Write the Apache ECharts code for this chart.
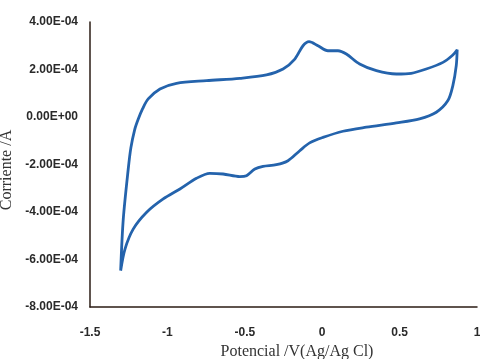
<!DOCTYPE html>
<html>
<head>
<meta charset="utf-8">
<script src="https://cdn.jsdelivr.net/npm/echarts@6/dist/echarts.min.js"></script>
<style>
  html, body { margin: 0; padding: 0; background: #fff; }
  #chart { width: 480px; height: 359px; }
</style>
</head>
<body>
<div id="chart"></div>
<script>
// Voltamograma ciclico: potencial (V) y corriente (A)
var potencial = [
  -1.302, -1.285, -1.253, -1.236, -1.212, -1.190, -1.160, -1.124, -1.048, -0.941, -0.747, -0.532,
  -0.360, -0.253, -0.177, -0.124, -0.085, -0.027, 0.037, 0.102, 0.156, 0.242,
  0.350, 0.479, 0.575, 0.672, 0.780, 0.844, 0.872,
  0.866, 0.844, 0.812, 0.737, 0.629, 0.479, 0.285, 0.134, 0.005, -0.081,
  -0.145, -0.221, -0.296, -0.382, -0.435, -0.489, -0.532, -0.640, -0.726,
  -0.812, -0.919, -1.027, -1.134, -1.221, -1.274, -1.302
];
var corriente = [
  -6.47e-4, -4.29e-4, -2.19e-4, -1.30e-4, -0.55e-4, -0.12e-4, 0.35e-4, 0.76e-4, 1.18e-4, 1.42e-4, 1.53e-4, 1.63e-4,
  1.77e-4, 2.02e-4, 2.44e-4, 3.00e-4, 3.17e-4, 3.00e-4, 2.79e-4, 2.79e-4, 2.65e-4, 2.23e-4,
  1.95e-4, 1.81e-4, 1.84e-4, 2.02e-4, 2.30e-4, 2.61e-4, 2.83e-4,
  2.16e-4, 1.32e-4, 0.69e-4, 0.20e-4, -0.08e-4, -0.25e-4, -0.43e-4, -0.60e-4, -0.86e-4, -1.09e-4,
  -1.42e-4, -1.84e-4, -2.01e-4, -2.08e-4, -2.19e-4, -2.47e-4, -2.51e-4, -2.40e-4, -2.37e-4,
  -2.58e-4, -3.03e-4, -3.45e-4, -4.01e-4, -4.72e-4, -5.56e-4, -6.47e-4
];

var chart = echarts.init(document.getElementById('chart'));

// formato "4.00E-04"
function formatoCientifico(v) {
  var s = Number(v).toExponential(2);
  var partes = s.split('e');
  var exp = parseInt(partes[1], 10);
  var signo = exp < 0 ? '-' : '+';
  var abs = Math.abs(exp);
  return partes[0] + 'E' + signo + (abs < 10 ? '0' + abs : abs);
}

var labelFont = {
  color: '#2a2a2a',
  fontFamily: '"Liberation Sans", sans-serif',
  fontSize: 12,
  fontWeight: 'bold'
};

var option = {
  animation: false,
  grid: { left: 90, right: 3, top: 22, bottom: 52, outerBoundsMode: 'none' },
  xAxis: {
    type: 'value',
    min: -1.5,
    max: 1,
    interval: 0.5,
    name: 'Potencial /V(Ag/Ag Cl)',
    nameLocation: 'middle',
    nameGap: 37,
    nameTextStyle: {
      color: '#333',
      fontFamily: '"Liberation Serif", serif',
      fontSize: 16,
      padding: [0, 0, 0, 27]
    },
    axisLine: { onZero: false, lineStyle: { color: '#2b1d15', width: 1.5 } },
    axisTick: { show: false },
    splitLine: { show: false },
    axisLabel: Object.assign({ margin: 20, formatter: function (v) { return String(v); } }, labelFont)
  },
  yAxis: {
    type: 'value',
    min: -8e-4,
    max: 4e-4,
    interval: 2e-4,
    name: 'Corriente /A',
    nameLocation: 'middle',
    nameGap: 65,
    nameTextStyle: {
      color: '#333',
      fontFamily: '"Liberation Serif", serif',
      fontSize: 16,
      padding: [0, 11, 0, 0]
    },
    axisLine: { show: true, onZero: false, lineStyle: { color: '#2b1d15', width: 1.5 } },
    axisTick: { show: false },
    splitLine: { show: false },
    axisLabel: Object.assign({ margin: 12, formatter: formatoCientifico }, labelFont)
  },
  series: [{
    type: 'line',
    data: potencial.map(function (v, i) { return [v, corriente[i]]; }),
    showSymbol: false,
    smooth: 0.3,
    lineStyle: { color: '#2463ac', width: 2.8 }
  }]
};

chart.setOption(option);
</script>
</body>
</html>
